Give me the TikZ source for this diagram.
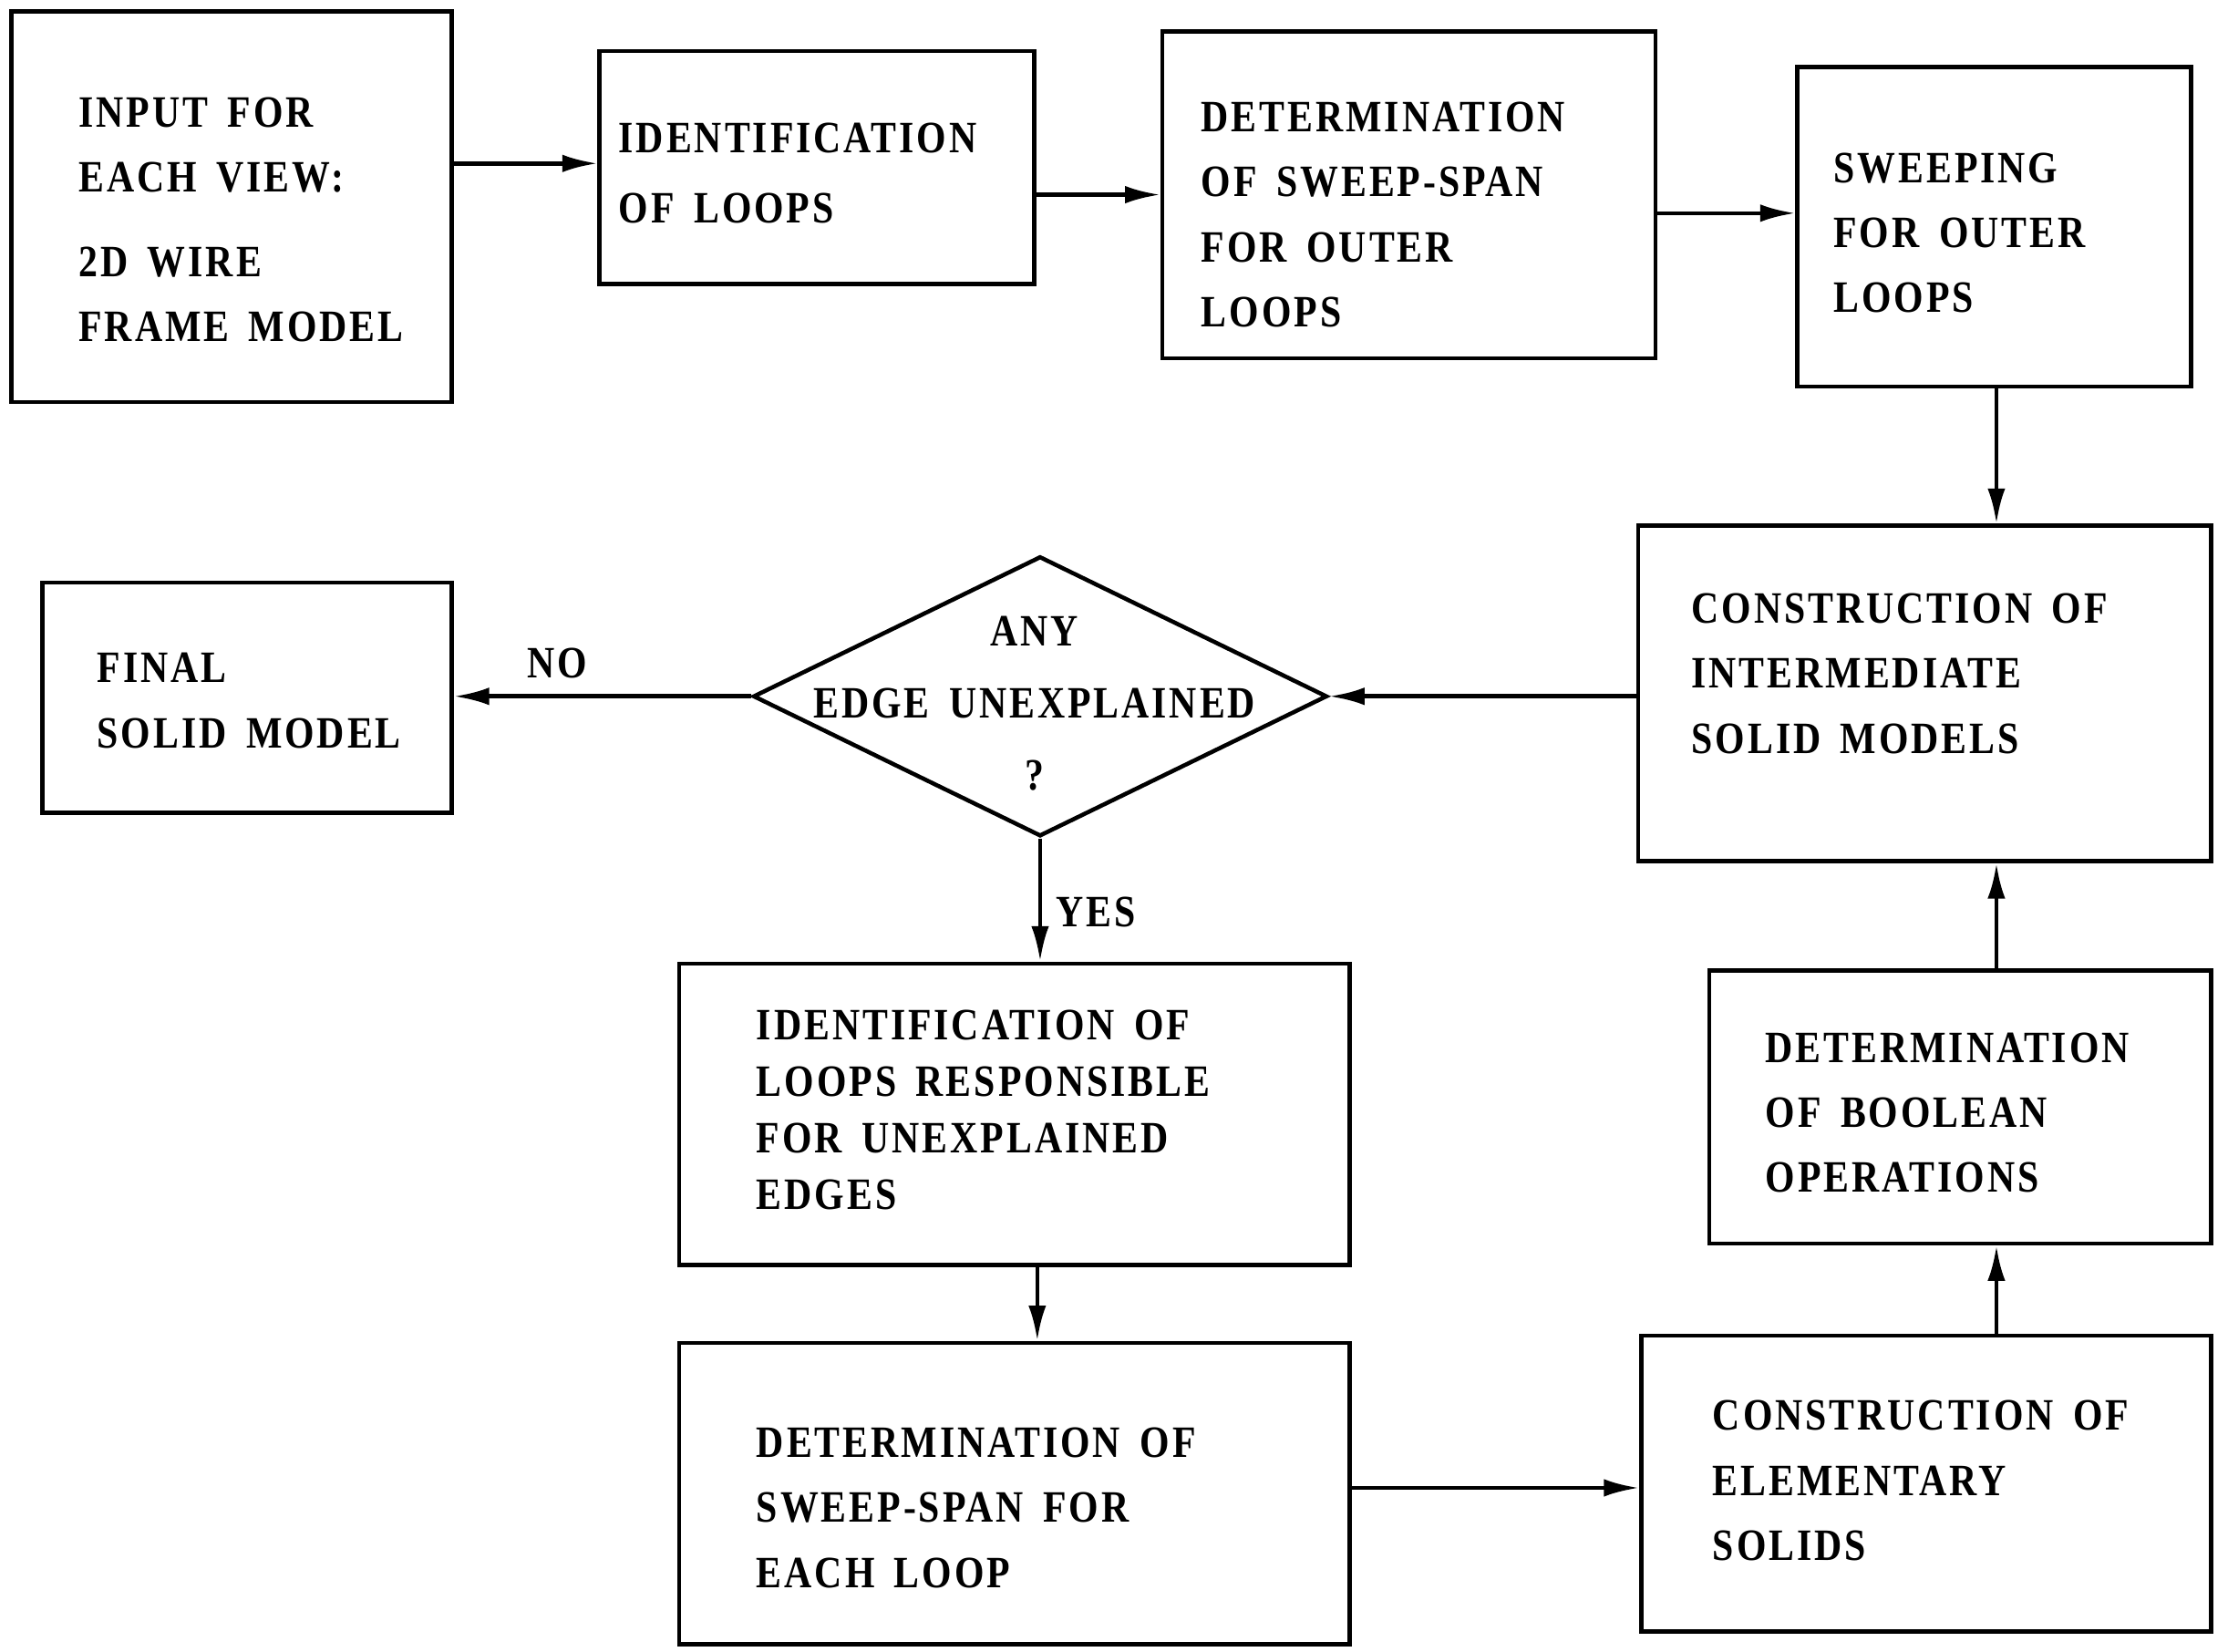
\documentclass[tikz,border=0pt]{standalone}
\usepackage{fontspec}
\usetikzlibrary{arrows.meta,shapes.geometric}
\newfontfamily\lblfam{Liberation Serif}[FakeStretch=0.85,LetterSpace=6,WordSpace=1.6]
\newcommand{\lblfont}{\lblfam\bfseries\fontsize{14}{20.3}\selectfont}
\newcommand{\mkbox}[5]{%
  \node[box, minimum width={(#4-#2)*0.015587cm}, minimum height={(#5-#3)*0.015587cm}]
    (#1) at ({(#2+#4)/2},{(#3+#5)/2}) {};}
\tikzset{
  box/.style={draw, rectangle, line width=1.3pt, inner sep=0pt},
  lbl/.style={anchor=west, inner sep=0pt, align=left, font=\lblfont},
  clbl/.style={anchor=center, inner sep=0pt, align=center, font=\lblfont},
  arr/.style={line width=1.3pt, -{Latex[length=11pt,width=5.5pt]}},
}
\begin{document}
\begin{tikzpicture}[x=0.015587cm, y=-0.015587cm]
\useasboundingbox (0,0) rectangle (1568,1162);
% boxes
\mkbox{in}{8}{8}{318}{283}
\mkbox{id}{422}{36}{728}{200}
\mkbox{det}{818}{22}{1165}{252}
\mkbox{sw}{1265}{47}{1542}{272}
\mkbox{inter}{1153}{370}{1556}{606}
\mkbox{fin}{30}{410}{318}{572}
\mkbox{resp}{478}{678}{950}{890}
\mkbox{each}{478}{945}{950}{1157}
\mkbox{elem}{1155}{940}{1556}{1148}
\mkbox{bool}{1203}{683}{1556}{875}
\node[draw, diamond, line width=1.3pt, inner sep=0pt,
      minimum width={404*0.015587cm}, minimum height={197*0.015587cm}]
      (dia) at (732,490) {};
% texts
\node[lbl] (t1a) at (55,102) {INPUT FOR\\EACH VIEW:};
\node[lbl] (t1b) at (55,207) {2D WIRE\\FRAME MODEL};
\node[lbl, font={\lblfam\bfseries\fontsize{14}{22}\selectfont}] (t2) at (435,122) {IDENTIFICATION\\OF LOOPS};
\node[lbl] (t3) at (845,151) {DETERMINATION\\OF SWEEP-SPAN\\FOR OUTER\\LOOPS};
\node[lbl] (t4) at (1290,164) {SWEEPING\\FOR OUTER\\LOOPS};
\node[lbl] (t5) at (1190,474) {CONSTRUCTION OF\\INTERMEDIATE\\SOLID MODELS};
\node[clbl, font={\lblfam\bfseries\fontsize{14}{22.5}\selectfont}] (t6) at (728,495) {ANY\\EDGE UNEXPLAINED\\?};
\node[lbl] (t7) at (68,493) {FINAL\\SOLID MODEL};
\node[lbl, font={\lblfam\bfseries\fontsize{14}{17.7}\selectfont}] (t8) at (532,781) {IDENTIFICATION OF\\LOOPS RESPONSIBLE\\FOR UNEXPLAINED\\EDGES};
\node[lbl] (t9) at (532,1061) {DETERMINATION OF\\SWEEP-SPAN FOR\\EACH LOOP};
\node[lbl] (t10) at (1205,1042) {CONSTRUCTION OF\\ELEMENTARY\\SOLIDS};
\node[lbl] (t11) at (1242,783) {DETERMINATION\\OF BOOLEAN\\OPERATIONS};
\node[clbl] (no) at (392,467) {NO};
\node[clbl] (yes) at (771,642) {YES};
% connectors
\draw[arr] (in.east |- 0,115) -- (id.west |- 0,115);
\draw[arr] (id.east |- 0,137) -- (det.west |- 0,137);
\draw[arr] (det.east |- 0,150) -- (sw.west |- 0,150);
\draw[arr] (sw.south -| 1405,0) -- (inter.north -| 1405,0);
\draw[arr] (inter.west |- dia.east) -- (dia.east);
\draw[arr] (dia.west) -- (fin.east |- dia.west);
\draw[arr] (dia.south) -- (resp.north -| dia.south);
\draw[arr] (resp.south -| 730,0) -- (each.north -| 730,0);
\draw[arr] (each.east |- 0,1047) -- (elem.west |- 0,1047);
\draw[arr] (elem.north -| 1405,0) -- (bool.south -| 1405,0);
\draw[arr] (bool.north -| 1405,0) -- (inter.south -| 1405,0);
\end{tikzpicture}
\end{document}
